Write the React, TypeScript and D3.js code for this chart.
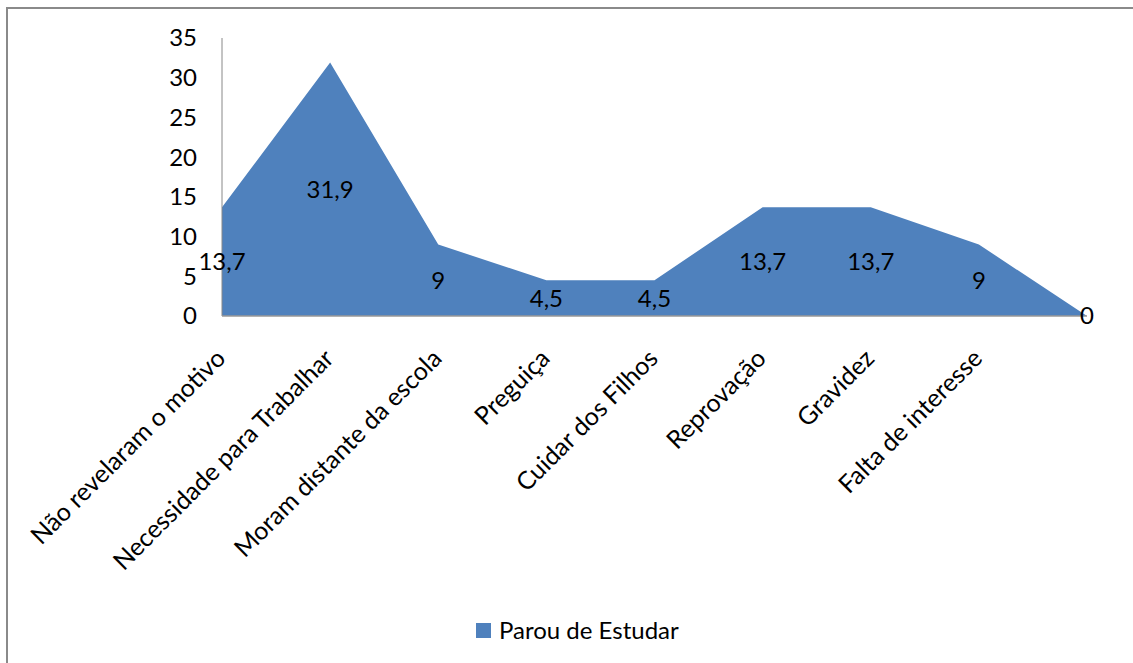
import React from "react";
import * as d3 from "d3";

const categories = [
  "Não revelaram o motivo",
  "Necessidade para Trabalhar",
  "Moram distante da escola",
  "Preguiça",
  "Cuidar dos Filhos",
  "Reprovação",
  "Gravidez",
  "Falta de interesse",
  "",
];
const values = [13.7, 31.9, 9, 4.5, 4.5, 13.7, 13.7, 9, 0];
const valueLabels = ["13,7", "31,9", "9", "4,5", "4,5", "13,7", "13,7", "9", "0"];
const yTicks = [0, 5, 10, 15, 20, 25, 30, 35];
const seriesName = "Parou de Estudar";

const W = 1133;
const H = 663;
const FONT = "Lato, 'Open Sans', sans-serif";
const FS = 24;
const FILL = "#4F81BD";

export default function App() {
  const x = d3.scalePoint<number>().domain(d3.range(categories.length)).range([222, 1087]);
  const y = d3.scaleLinear().domain([0, 35]).range([316, 38]);
  const area = d3
    .area<number>()
    .x((_, i) => x(i) as number)
    .y0(y(0))
    .y1((d) => y(d));

  return (
    <svg width={W} height={H} style={{ position: "absolute", left: 0, top: 0 }}>
      <rect x={0} y={0} width={W} height={H} fill="#fff" />
      <rect x={7} y={8} width={W + 20} height={H + 20} fill="none" stroke="#8a8a8a" strokeWidth={2} />
      <path d={area(values) || ""} fill={FILL} />
      <line x1={222} x2={222} y1={y(35)} y2={y(0)} stroke="#888" strokeWidth={1} />
      <line x1={222} x2={x(categories.length - 1) as number} y1={y(0)} y2={y(0)} stroke="#999" strokeWidth={1.5} />
      {yTicks.map((t) => (
        <text key={t} x={197} y={y(t)} dy="0.35em" textAnchor="end" fontFamily={FONT} fontSize={FS} fill="#000">
          {t}
        </text>
      ))}
      {values.map((v, i) => (
        <text
          key={i}
          x={x(i) as number}
          y={y(v / 2)}
          dy="0.35em"
          textAnchor="middle"
          fontFamily={FONT}
          fontSize={FS}
          fill="#000"
        >
          {valueLabels[i]}
        </text>
      ))}
      {categories.map((c, i) => (
        <text
          key={i}
          transform={`translate(${(x(i) as number) + 5},${360}) rotate(-45)`}
          textAnchor="end"
          fontFamily={FONT}
          fontSize={25}
          fill="#000"
        >
          {c}
        </text>
      ))}
      <rect x={476} y={623} width={15} height={15} fill={FILL} />
      <text x={499} y={631} dy="0.35em" fontFamily={FONT} fontSize={FS} fill="#000">
        {seriesName}
      </text>
    </svg>
  );
}
